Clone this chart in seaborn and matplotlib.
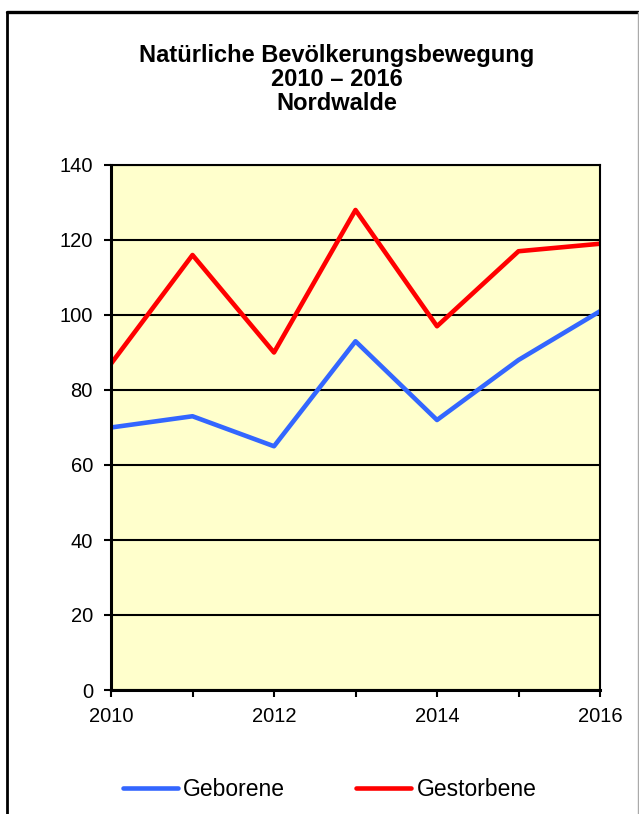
import pandas as pd
import seaborn as sns
import matplotlib.pyplot as plt
from matplotlib.lines import Line2D

years = [2010, 2011, 2012, 2013, 2014, 2015, 2016]
geborene = [70, 73, 65, 93, 72, 88, 101]
gestorbene = [87, 116, 90, 128, 97, 117, 119]
series_names = ["Geborene", "Gestorbene"]
title_lines = ["Natürliche Bevölkerungsbewegung", "2010 – 2016", "Nordwalde"]

df = pd.DataFrame({
    "Jahr": years * 2,
    "Anzahl": geborene + gestorbene,
    "Reihe": [series_names[0]] * len(years) + [series_names[1]] * len(years),
})

sns.set_style("white")
plt.rcParams["font.family"] = ["Liberation Sans", "DejaVu Sans"]
plt.rcParams["text.color"] = "black"
plt.rcParams["xtick.color"] = "black"
plt.rcParams["ytick.color"] = "black"

fig = plt.figure(figsize=(6.39, 8.14), dpi=100)
ax = fig.add_axes([111 / 639, 1 - 690 / 814, 489 / 639, 525 / 814])
ax.set_facecolor("#FFFFCC")

sns.lineplot(data=df, x="Jahr", y="Anzahl", hue="Reihe",
             palette={"Geborene": "#3366FF", "Gestorbene": "#FF0000"},
             linewidth=3.3, ax=ax, legend=True)

ax.set_xlim(2010, 2016)
ax.set_ylim(0, 140)
ax.set_yticks(range(0, 141, 20))
ax.set_xticks([2010, 2012, 2014, 2016])
ax.set_xticks(years, minor=True)
ax.yaxis.grid(True, color="black", linewidth=1.5)
ax.set_axisbelow(True)
ax.set_xlabel("")
ax.set_ylabel("")
ax.tick_params(axis="both", which="both", direction="out", length=5,
               width=1.5, color="black", labelsize=14.5, bottom=True, left=True)
ax.tick_params(axis="y", pad=8)
ax.tick_params(axis="x", which="major", pad=7)
for side in ["left", "bottom", "right", "top"]:
    ax.spines[side].set_color("black")
    ax.spines[side].set_linewidth(1.5)
ax.spines["left"].set_linewidth(2.2)
ax.spines["bottom"].set_linewidth(2.2)

# Titelzeilen einzeln, Grundlinien wie im Original
for line, base in zip(title_lines, [62, 86, 110]):
    fig.text(336.5 / 639, 1 - base / 814, line, ha="center", va="baseline",
             fontsize=17, fontweight="bold")

handles, labels = ax.get_legend_handles_labels()
ax.get_legend().remove()
fig.legend(handles, labels, loc="center", bbox_to_anchor=(0.516, 1 - 790 / 814),
           ncol=2, frameon=False, fontsize=16.5, handlelength=2.4,
           columnspacing=3.1, handletextpad=0.25)

# Rahmen um das Diagramm (unten abgeschnitten)
top = 1 - 11.5 / 814
x_left, x_right = 7 / 639, 638 / 639
fig.add_artist(Line2D([x_left, x_right], [top, top], color="black", linewidth=2.4))
fig.add_artist(Line2D([x_left, x_left], [top, 0], color="black", linewidth=2))
fig.add_artist(Line2D([x_right, x_right], [top, 0], color="#AAAAAA", linewidth=1))

fig.savefig("out.png", dpi=100)
